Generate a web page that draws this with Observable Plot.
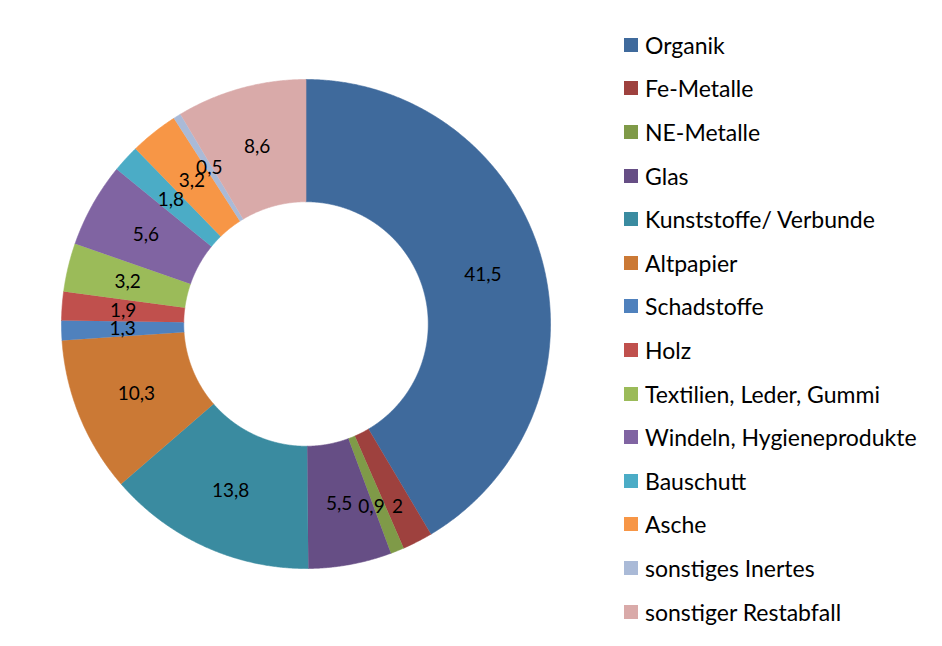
<!DOCTYPE html>
<html>
<head>
<meta charset="utf-8">
<script src="https://cdn.jsdelivr.net/npm/d3@7"></script>
<script src="https://cdn.jsdelivr.net/npm/@observablehq/plot@0.6"></script>
<style>
  html, body { margin: 0; padding: 0; background: #fff; }
  #wrap { position: relative; width: 942px; height: 646px; font-family: Lato, "Open Sans", sans-serif; }
  #legend { position: absolute; left: 624px; top: 23px; }
  .row { display: flex; align-items: center; height: 43.6px; font-size: 23px; color: #000; white-space: nowrap; }
  .sw { width: 14px; height: 14px; margin-right: 7px; flex: none; }
</style>
</head>
<body>
<div id="wrap"><div id="chart"></div><div id="legend"></div></div>
<script>
const categories = ["Organik", "Fe-Metalle", "NE-Metalle", "Glas", "Kunststoffe/ Verbunde", "Altpapier", "Schadstoffe", "Holz", "Textilien, Leder, Gummi", "Windeln, Hygieneprodukte", "Bauschutt", "Asche", "sonstiges Inertes", "sonstiger Restabfall"];
const values = [41.5, 2, 0.9, 5.5, 13.8, 10.3, 1.3, 1.9, 3.2, 5.6, 1.8, 3.2, 0.5, 8.6];
const colors = ["#3F6A9C", "#9E413E", "#7F9A48", "#664E85", "#3A8BA0", "#CB7935", "#4F81BD", "#C0504D", "#9BBB59", "#8064A2", "#4BACC6", "#F79646", "#AABAD7", "#D9AAA9"];
const innerRatio = 0.5;

const data = categories.map((c, i) => ({cat: c, value: values[i]}));
const arcs = d3.pie().sort(null).value(d => d.value)(data);

const polys = [];
const labels = [];
for (const a of arcs) {
  const n = Math.max(2, Math.ceil((a.endAngle - a.startAngle) / 0.005));
  const outer = d3.range(n + 1).map(k => a.startAngle + (a.endAngle - a.startAngle) * k / n);
  for (const t of outer) polys.push({cat: a.data.cat, x: Math.sin(t), y: Math.cos(t)});
  for (const t of outer.slice().reverse()) polys.push({cat: a.data.cat, x: innerRatio * Math.sin(t), y: innerRatio * Math.cos(t)});
  const m = (a.startAngle + a.endAngle) / 2, r = (1 + innerRatio) / 2;
  labels.push({angle: m, r, x: r * Math.sin(m), y: r * Math.cos(m), text: String(a.data.value).replace(".", ",")});
}
// simple collision handling for side-by-side labels near the bottom: push outward
for (let i = 1; i < labels.length; i++) {
  const p = labels[i - 1], q = labels[i];
  const dxPx = Math.abs(p.x - q.x) * 244.5, dyPx = Math.abs(p.y - q.y) * 244.5;
  if (dyPx < 9 && dxPx < 22) {
    const dir = Math.sign(q.x - p.x) || -1;
    for (const l of [p, q]) { l.r = 0.82; l.x = l.r * Math.sin(l.angle); l.y = -0.75; }
    q.x = p.x + dir * 26 / 244.5;
  }
}

const chart = Plot.plot({
  width: 942,
  height: 646,
  style: {fontFamily: "Lato, 'Open Sans', sans-serif", background: "white"},
  x: {domain: [-1, 1], range: [61, 550], axis: null},
  y: {domain: [-1, 1], range: [568, 79], axis: null},
  color: {type: "ordinal", domain: categories, range: colors},
  marks: [
    Plot.line(polys, {x: "x", y: "y", z: "cat", fill: "cat", stroke: "cat", strokeWidth: 0.6, curve: "linear"}),
    Plot.text(labels, {x: "x", y: "y", text: "text", fontSize: 19, fill: "black"})
  ]
});
document.getElementById("chart").appendChild(chart);

const scale = chart.scale("color");
const legend = document.getElementById("legend");
categories.forEach((c, i) => {
  const row = document.createElement("div");
  row.className = "row";
  const sw = document.createElement("span");
  sw.className = "sw";
  sw.style.background = scale.range[i];
  const t = document.createElement("span");
  t.textContent = c;
  row.appendChild(sw); row.appendChild(t);
  legend.appendChild(row);
});
</script>
</body>
</html>
